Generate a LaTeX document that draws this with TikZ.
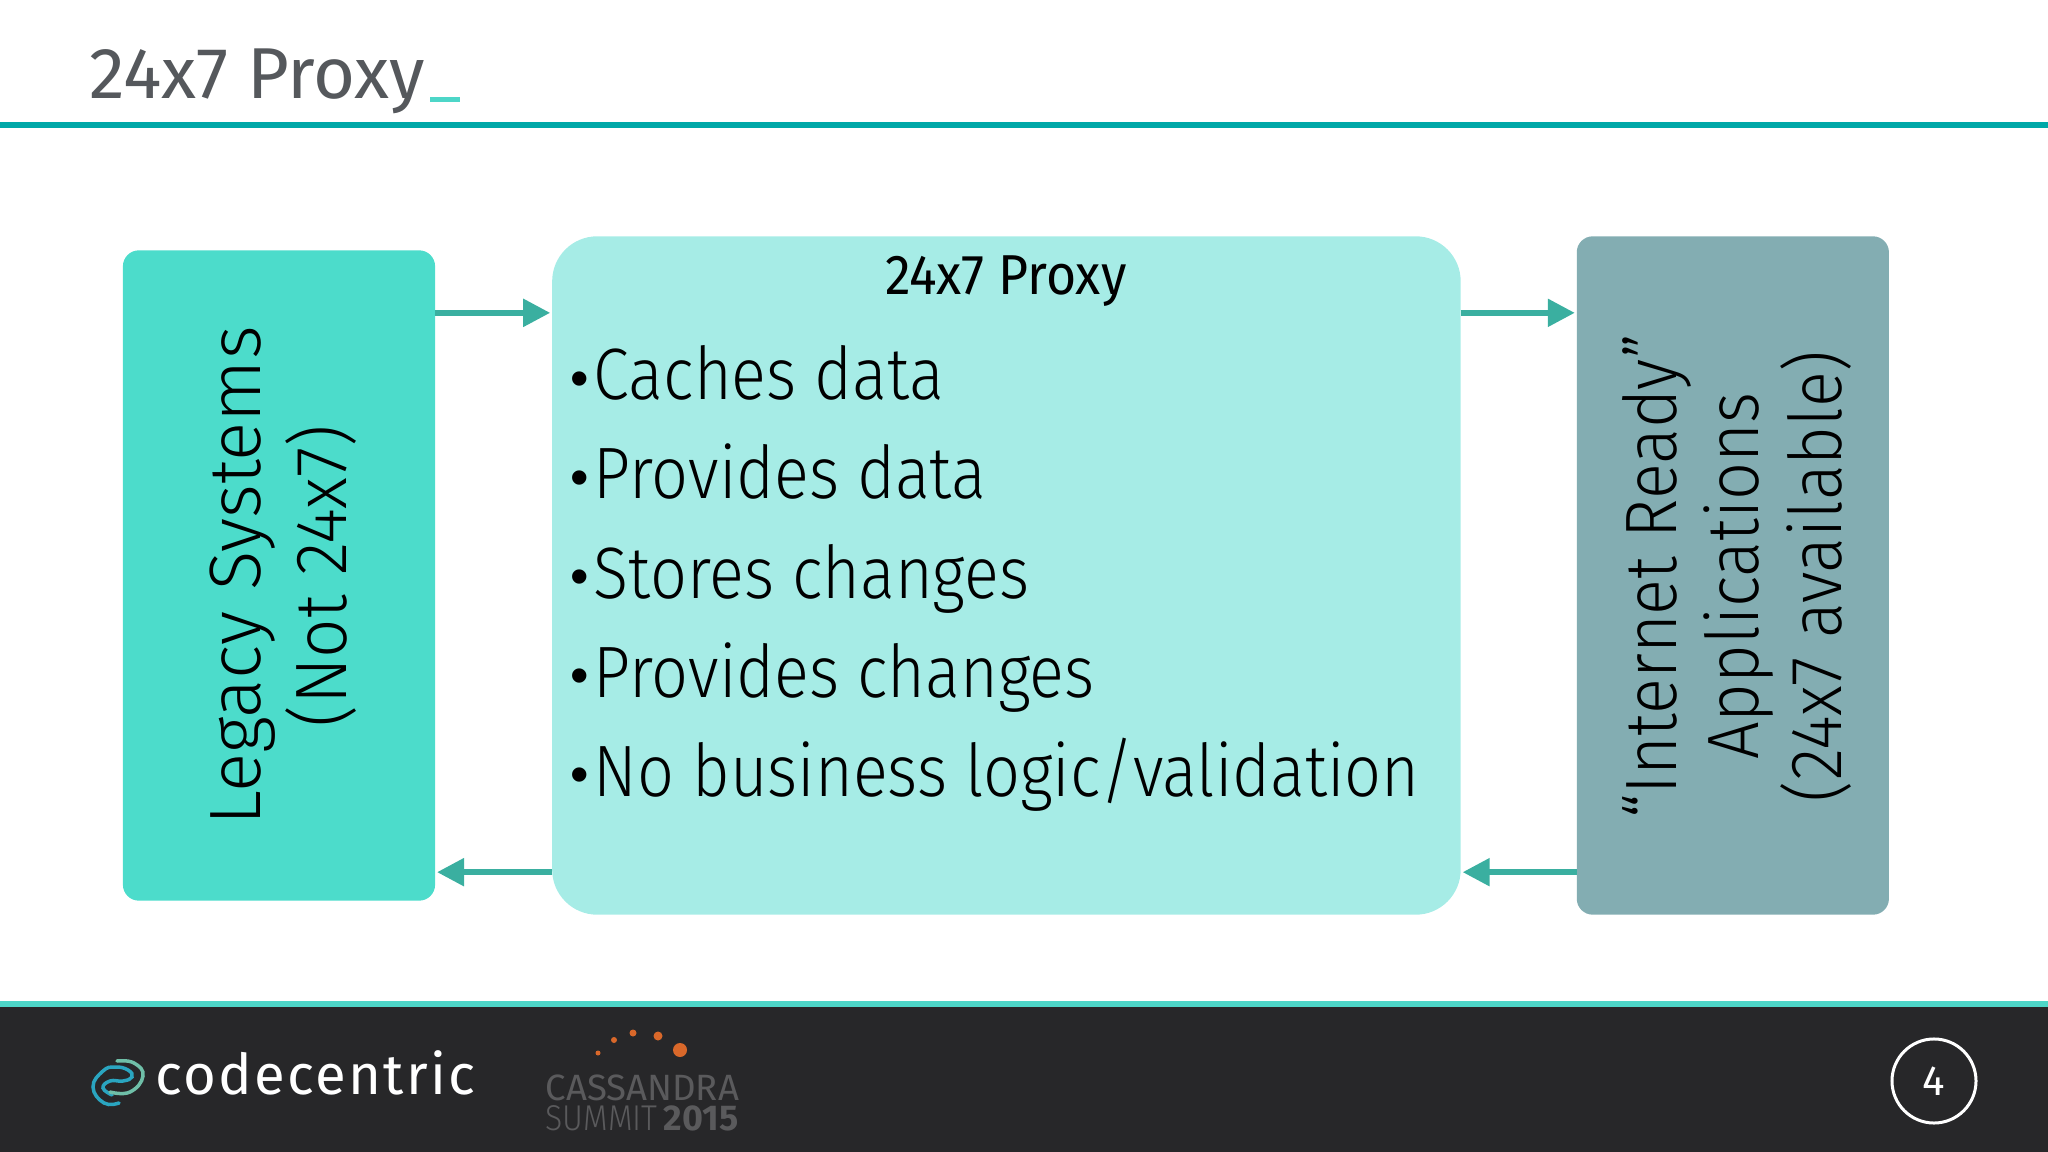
\documentclass[tikz,border=0pt]{standalone}
\usepackage{fontspec}
\setmainfont[FakeStretch=0.89]{Fira Sans Light}
\newfontfamily\titlefont{Fira Sans}
\newfontfamily\headfont[FakeStretch=0.92]{Fira Sans}
\newfontfamily\legacyfont{Fira Sans Light}
\newfontfamily\notfont[FakeStretch=0.95]{Fira Sans Light}
\newfontfamily\appfont[FakeStretch=0.915]{Fira Sans Light}
\newfontfamily\bulletfont{Liberation Sans}
\newfontfamily\logofont[LetterSpace=4]{Fira Sans}
\newcommand{\pxbullet}{\makebox[7.15pt][l]{\hspace{0.6pt}\raisebox{1pt}{\bulletfont\fontsize{15}{15}\selectfont •}}}
\usetikzlibrary{arrows.meta,positioning}
\definecolor{legacyfill}{HTML}{4CDCCB}
\definecolor{proxyfill}{HTML}{A6ECE6}
\definecolor{appfill}{HTML}{83ADB2}
\definecolor{arrowteal}{HTML}{3AAFA0}
\definecolor{ruleteal}{HTML}{00A8A8}
\definecolor{footline}{HTML}{4DD6C8}
\definecolor{footdark}{HTML}{272729}
\definecolor{titlegray}{HTML}{55585C}
\definecolor{summitgray}{HTML}{5A5A5C}
\definecolor{dotorange}{HTML}{D9682A}
\definecolor{logogreen}{HTML}{6FBFA8}
\definecolor{logoblue}{HTML}{2AA5C0}

\begin{document}
\begin{tikzpicture}[
            x=0.01cm, y=-0.01cm,
            node distance=1.17cm and 1.17cm,
            % --- styles ---
            sidebox/.style={rectangle, rounded corners=0.16cm, minimum width=3.12cm, inner sep=0pt, outer sep=0pt},
            proxybox/.style={rectangle, fill=proxyfill, rounded corners=0.45cm, minimum width=9.08cm,
                             minimum height=6.78cm, inner sep=0pt, outer sep=0pt},
            sidetext/.style={rotate=90, align=center, inner sep=0pt, font=\fontsize{20.7}{23.5}\selectfont},
            summittext/.style={anchor=base west, inner sep=0pt, text=summitgray, text height=0.26cm, text depth=0pt},
            line/.style={draw=arrowteal, line width=0.055cm, -{Triangle[length=0.27cm,width=0.27cm]}, shorten >=0.02cm},
            logoline/.style={line width=0.035cm, line cap=round}
        ]
        \useasboundingbox (0,0) rectangle (2048,1152);

        % --- header ---
        \node[anchor=base west, inner sep=0pt, text=titlegray, font=\titlefont\fontsize{20.5}{24}\selectfont] (title) at (89,99) {24x7 Proxy};
        \fill[footline] (430,97) rectangle (460,102);
        \fill[ruleteal] (0,122) rectangle (2048,128);

        % --- nodes ---
        \node[sidebox, fill=legacyfill, minimum height=6.5cm] (legacy) at (279,575.5) {};
        \node[proxybox, right=of legacy] (proxy) {};
        \node[sidebox, fill=appfill, minimum height=6.78cm, right=1.16cm of proxy] (apps) {};

        \node[sidetext, xshift=-0.005cm, yshift=-0.04cm] (legacytext) at (legacy) {{\legacyfont Legacy Systems}\\[0.8pt]{\notfont (Not 24x7)}};
        \node[sidetext, xshift=-0.01cm, yshift=-0.04cm] (appstext) at (apps) {\appfont “Internet Ready”\\\appfont Applications\\\appfont (24x7 available)};

        \node[anchor=base, inner sep=0pt, font=\headfont\fontsize{16}{18}\selectfont] (proxyhead) at (1006,295) {24x7 Proxy};
        \node[anchor=north west, inner sep=0pt, align=left, font=\fontsize{20.7}{28.2}\selectfont] (proxylist) at (568,345) {%
            \pxbullet Caches data\\
            \pxbullet Provides data\\
            \pxbullet Stores changes\\
            \pxbullet Provides changes\\
            \pxbullet No business logic/validation};

        % --- connectors ---
        \path[line] ([yshift=2.625cm]legacy.east) -- ([yshift=2.625cm]proxy.west);
        \path[line] ([yshift=2.625cm]proxy.east) -- ([yshift=2.625cm]apps.west);
        \path[line] ([yshift=-2.965cm]proxy.west) -- ([yshift=-2.965cm]legacy.east);
        \path[line] ([yshift=-2.965cm]apps.west) -- ([yshift=-2.965cm]proxy.east);

        % --- footer ---
        \fill[footdark] (0,1004) rectangle (2048,1152);
        \fill[footline] (0,1001) rectangle (2048,1007);

        % logo
        \draw[logoline, logoblue] plot[smooth, tension=0.8] coordinates {(119,1103) (104,1103) (93,1087) (103,1071) (115,1067) (128,1070) (132,1077) (123,1081) (110,1081) (103,1088) (112,1095)};
        \draw[logoline, logogreen] plot[smooth, tension=0.8] coordinates {(117,1061) (134,1063) (143,1076) (130,1092) (110,1092)};
        \node[anchor=base west, inner sep=0pt, text=white, font=\logofont\fontsize{16}{18}\selectfont] (logotext) at (155,1094) {codecentric};

        \fill[dotorange] (598,1053) circle[radius=2.5];
        \fill[dotorange] (614,1040) circle[radius=3];
        \fill[dotorange] (633,1033) circle[radius=3.5];
        \fill[dotorange] (658,1036) circle[radius=4.5];
        \fill[dotorange] (680,1050) circle[radius=7];
        \node[summittext, font=\titlefont\fontsize{10.4}{12}\selectfont] (cassandra) at (545,1100) {CASSANDRA};
        \node[summittext, font=\fontsize{10.2}{12}\selectfont] (summit) at (545,1130) {SUMMIT\,{\titlefont\bfseries 2015}};

        \node[circle, draw=white, line width=0.03cm, minimum size=0.84cm, inner sep=0pt, text=white,
              font=\titlefont\fontsize{12}{14}\selectfont] (pagenum) at (1934,1081) {4};
\end{tikzpicture}
\end{document}
